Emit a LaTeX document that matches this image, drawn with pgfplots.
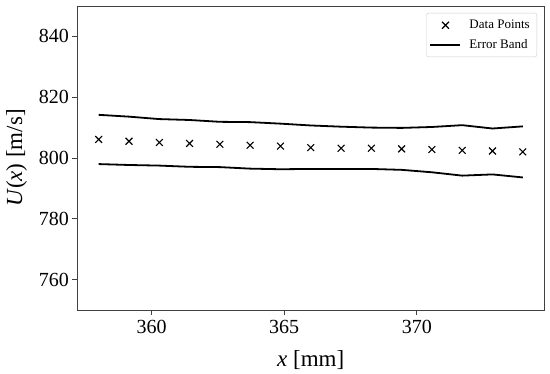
\documentclass[border=0pt]{standalone}
\usepackage{fontspec}
\setmainfont{Liberation Serif}
\usepackage{pgfplots}
\pgfplotsset{compat=1.18}
\pgfplotsset{
  markleg/.style={legend image code/.code={\draw[black, line width=1.1pt] plot[mark=x, mark size=4.8pt] coordinates {(15pt,0pt)};}},
  lineleg/.style={legend image code/.code={\path[draw=black, line width=2pt] (0pt,0pt) -- (30pt,0pt);}},
}
\begin{document}
\begin{tikzpicture}
\useasboundingbox (-77.5pt,-64pt) rectangle (472.5pt,310pt);
\begin{axis}[
  at={(0,0)}, anchor=south west,
  scale only axis, width=466.5pt, height=304pt,
  xmin=357.2, xmax=374.8, ymin=750, ymax=850,
  xtick={360,365,370}, ytick={760,780,800,820,840},
  tick align=outside, major tick length=5pt,
  tick style={black!75, line width=0.8pt},
  axis line style={black!75, line width=0.8pt},
  xtick pos=bottom, ytick pos=left,
  /pgf/number format/assume math mode=true,
  tick label style={font=\fontsize{20}{24}\selectfont},
  xticklabel style={yshift=-2pt},
  xlabel={\textit{x} [mm]},
  ylabel={\textit{U}(\textit{x}) [m/s]},
  label style={font=\fontsize{23}{27}\selectfont},
  xlabel style={at={(axis description cs:0.5,-0.1875)}, anchor=base},
  ylabel style={at={(axis description cs:-0.1308,0.5)}, anchor=center},
  legend style={at={(axis description cs:1,1)}, anchor=north east, xshift=-7pt, yshift=-7pt,
    font=\fontsize{13}{16}\selectfont, draw=black!20, rounded corners=2pt,
    row sep=5pt, column sep=4pt, inner xsep=3pt, inner ysep=5pt,
    nodes={inner xsep=4pt}},
  legend cell align=left,
]
\addplot[only marks, mark=x, mark size=4.8pt, black, line width=1.1pt, markleg]
coordinates {
(358.000,806.1) (359.143,805.5) (360.286,805.1) (361.429,804.8) (362.571,804.5)
(363.714,804.2) (364.857,803.9) (366.000,803.4) (367.143,803.2) (368.286,803.2)
(369.429,803.0) (370.571,802.8) (371.714,802.5) (372.857,802.3) (374.000,802.0)
};
\addlegendentry{Data Points}
\addplot[black, line width=1.8pt, no marks, lineleg]
coordinates {
(358.000,814.2) (359.143,813.6) (360.286,812.8) (361.429,812.5) (362.571,811.9)
(363.714,811.8) (364.857,811.3) (366.000,810.7) (367.143,810.3) (368.286,810.0)
(369.429,809.9) (370.571,810.2) (371.714,810.8) (372.857,809.7) (374.000,810.4)
};
\addlegendentry{Error Band}
\addplot[black, line width=1.8pt, no marks, forget plot]
coordinates {
(358.000,798.0) (359.143,797.7) (360.286,797.5) (361.429,797.1) (362.571,797.0)
(363.714,796.5) (364.857,796.3) (366.000,796.4) (367.143,796.4) (368.286,796.4)
(369.429,796.1) (370.571,795.3) (371.714,794.2) (372.857,794.6) (374.000,793.6)
};
\end{axis}
\end{tikzpicture}
\end{document}
